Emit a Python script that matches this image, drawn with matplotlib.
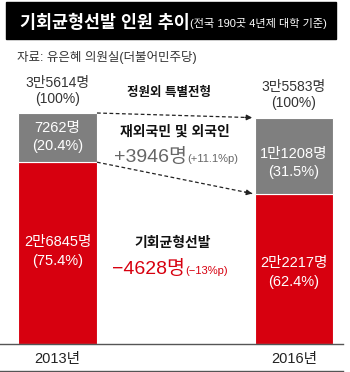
import numpy as np
import matplotlib.pyplot as plt
from matplotlib.patches import Rectangle

plt.rcParams['font.family'] = ['Liberation Sans', 'Noto Sans CJK KR']

# %% data
years = ['2013년', '2016년']
totals = np.array([35614, 35583])      # 전체 (100%)
special = np.array([7262, 11208])      # 정원외 특별전형 (재외국민 및 외국인)
balance = np.array([26845, 22217])     # 기회균형선발
special_pct = np.array([20.4, 31.5])
balance_pct = np.array([75.4, 62.4])

RED = '#D7000F'
GRAY = '#7F7F7F'


def man(n):
    hi, lo = divmod(int(n), 10000)
    return f'{hi}만{lo}명' if hi else f'{lo}명'


def pp(v):
    return f'{round(v, 1):g}'


# %% figure
fig = plt.figure(figsize=(3.5, 3.72), dpi=100)

# bars: baseline at 344px from top, 34107 persons ~ 231px
ax = fig.add_axes([0, 28 / 372, 1, 344 / 372])
ax.patch.set_alpha(0)
ax.set_xlim(-0.2431, 1.2368)
ax.set_ylim(0, 34107 * 344 / 231)
ax.axis('off')

x = np.arange(2)
w = 0.334
ax.bar(x, balance, w, color=RED, edgecolor='white', linewidth=0.8)
ax.bar(x, special, w, bottom=balance, color=GRAY, edgecolor='white', linewidth=0.8)

# dashed connectors between the two bars
for y0, y1 in [(special[0] + balance[0], special[1] + balance[1]),
               (balance[0], balance[1])]:
    x0, x1 = w / 2, 1 - w / 2 - 0.01
    ax.plot([x0, x1], [y0, y1], color='#222', lw=0.9, ls=(0, (3, 2)))
    ax.annotate('', xy=(x1, y1), xytext=(x1 - 0.03, y1 - (y1 - y0) * 0.03 / (x1 - x0)),
                arrowprops=dict(arrowstyle='-|>', color='#222', lw=0.9,
                                mutation_scale=8, shrinkA=0, shrinkB=0))

# %% text layer in pixel coordinates
ov = fig.add_axes([0, 0, 1, 1])
ov.set_xlim(0, 350)
ov.set_ylim(372, 0)
ov.axis('off')

ov.add_patch(Rectangle((6, 2), 330, 37, color='black'))
t = ov.text(20, 22, '기회균형선발 인원 추이', color='white', fontsize=12.5,
            fontweight='bold', va='center')
ov.annotate('(전국 190곳 4년제 대학 기준)', xy=(1, 0.12), xycoords=t,
            color='white', fontsize=8, va='bottom')
ov.text(17, 58, '자료: 유은혜 의원실(더불어민주당)', color='#333', fontsize=9, va='center')

cx = [57.5, 294]
top_y = [83, 87]
sp_y = [128, 154]
bl_y = [242, 263]
for i in range(2):
    ov.text(cx[i], top_y[i], man(totals[i]), ha='center', va='center', fontsize=10, color='#333')
    ov.text(cx[i], top_y[i] + 16, '(100%)', ha='center', va='center', fontsize=10, color='#333')
    ov.text(cx[i], sp_y[i], man(special[i]), ha='center', va='center', fontsize=10.5, color='white')
    ov.text(cx[i], sp_y[i] + 18, f'({special_pct[i]}%)', ha='center', va='center',
            fontsize=10.5, color='white')
    ov.text(cx[i], bl_y[i], man(balance[i]), ha='center', va='center', fontsize=10.5, color='white')
    ov.text(cx[i], bl_y[i] + 19, f'({balance_pct[i]}%)', ha='center', va='center',
            fontsize=10.5, color='white')
    ov.text(cx[i], 359, years[i], ha='center', va='center', fontsize=10.5, color='#222')

ov.text(169, 93, '정원외 특별전형', ha='center', va='center', fontsize=9, fontweight='bold', color='#111')
ov.text(175, 132, '재외국민 및 외국인', ha='center', va='center', fontsize=10, fontweight='bold', color='#111')
d_sp = special[1] - special[0]
ov.text(187, 162, f'+{d_sp}명', ha='right', va='baseline', fontsize=14, color='#666')
ov.text(187, 162, f'(+{pp(special_pct[1] - special_pct[0])}%p)', ha='left', va='baseline',
        fontsize=8, color='#666')

ov.text(173, 243, '기회균형선발', ha='center', va='center', fontsize=10, fontweight='bold', color='#111')
d_bl = balance[1] - balance[0]
ov.text(185, 274, f'−{abs(d_bl)}명', ha='right', va='baseline', fontsize=14, color=RED)
ov.text(185, 274, f'(−{pp(abs(balance_pct[1] - balance_pct[0]))}%p)', ha='left', va='baseline',
        fontsize=8, color=RED)

ov.plot([0, 343], [344, 344], color='#555', lw=1)
ov.plot([0, 343], [371, 371], color='#555', lw=1)

fig.savefig('out.png', dpi=100)
